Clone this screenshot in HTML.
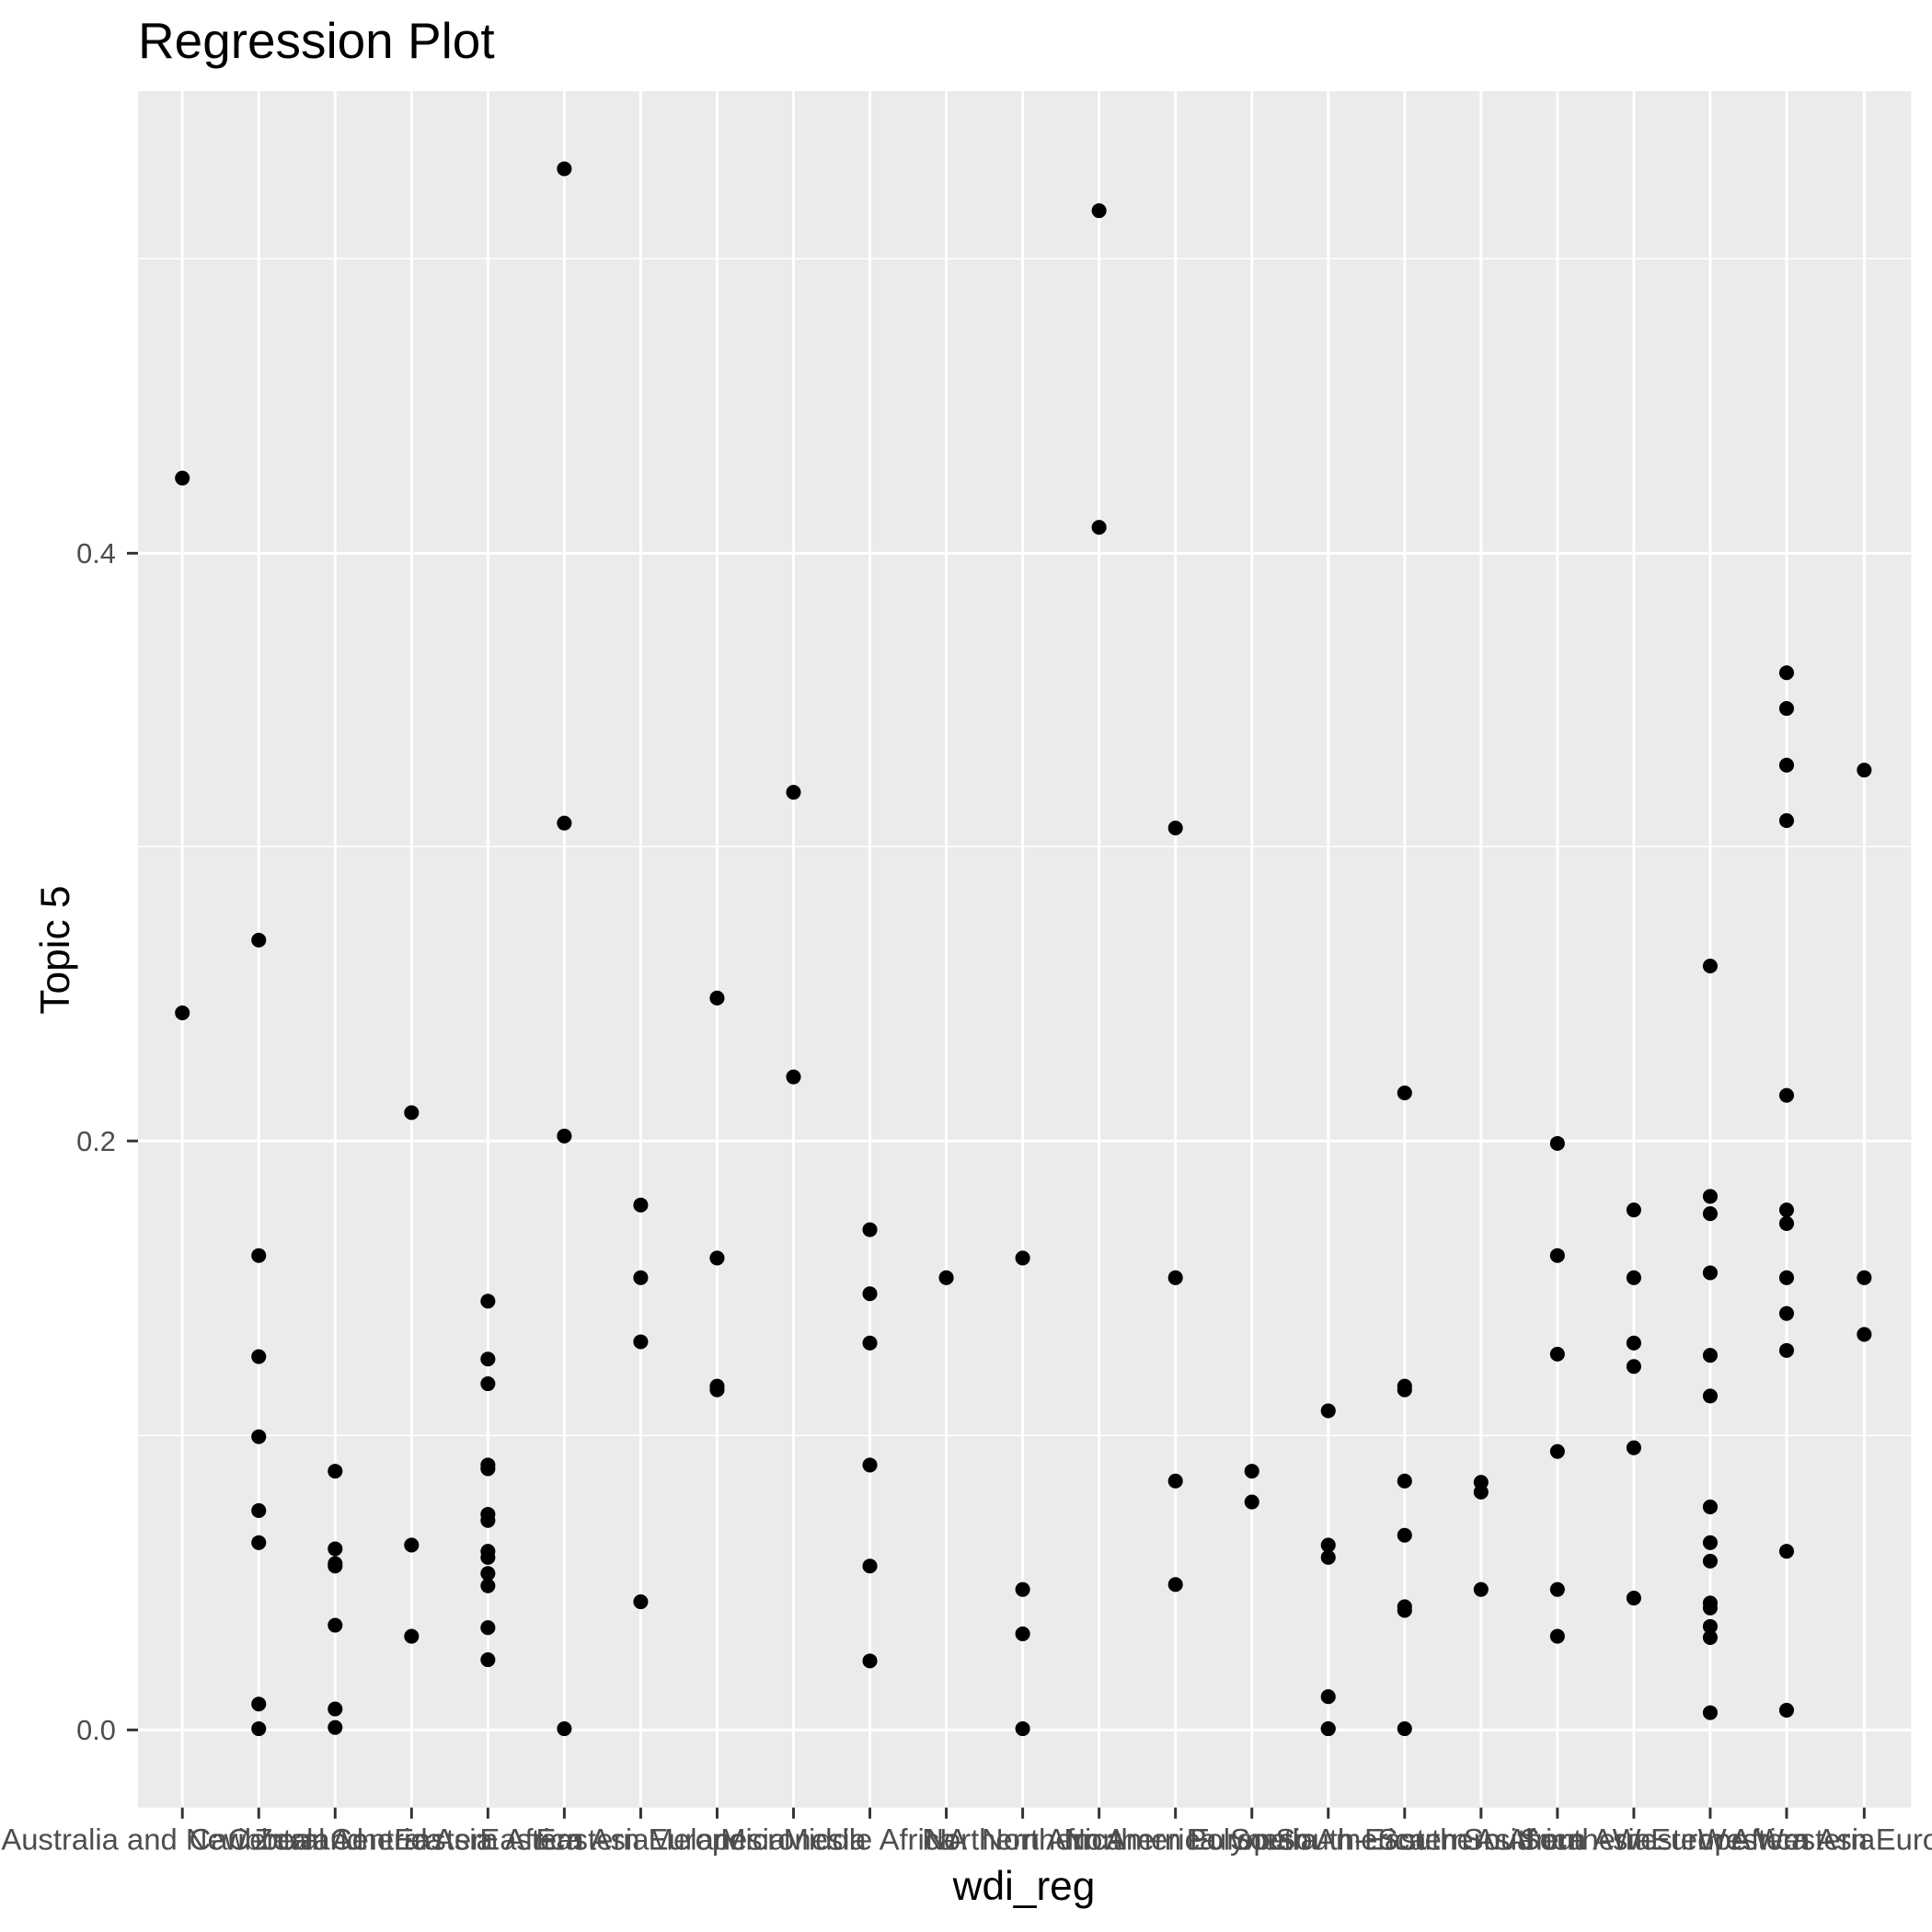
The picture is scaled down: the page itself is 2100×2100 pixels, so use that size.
<!DOCTYPE html>
<html><head><style>html,body{margin:0;padding:0;background:#fff}svg{display:block}</style></head>
<body>
<svg width="2100" height="2100" viewBox="0 0 1568 1568" xmlns="http://www.w3.org/2000/svg" font-family="Liberation Sans, sans-serif">
<rect x="0" y="0" width="1568" height="1568" fill="#fff"/>
<rect x="112" y="74" width="1439" height="1393" fill="#ebebeb"/>
<g stroke="#fff" stroke-width="1.1">
<line x1="112" x2="1551" y1="1165" y2="1165"/><line x1="112" x2="1551" y1="687" y2="687"/><line x1="112" x2="1551" y1="210" y2="210"/>
</g>
<g stroke="#fff" stroke-width="2.2" id="grid"></g>
<g id="pts" fill="#000"></g>
<g id="xt" fill="#4d4d4d" font-size="24.5" text-anchor="middle"></g>
<g fill="#4d4d4d" font-size="23" text-anchor="end">
<text x="94" y="1412">0.0</text><text x="94" y="934">0.2</text><text x="94" y="457">0.4</text>
</g>
<g stroke="#333" stroke-width="2.2">
<line x1="103" x2="112" y1="1404" y2="1404"/><line x1="103" x2="112" y1="926" y2="926"/><line x1="103" x2="112" y1="449" y2="449"/>
</g>
<text x="831" y="1542" font-size="33" text-anchor="middle">wdi_reg</text>
<text transform="translate(56,771) rotate(-90)" font-size="33" text-anchor="middle">Topic 5</text>
<text x="112" y="47" font-size="41">Regression Plot</text>
<script>
var X=[148,210,272,334,396,458,520,582,644,706,768,830,892,954,1016,1078,1140,1202,1264,1326,1388,1450,1513];
var names=["Australia and New Zealand","Caribbean","Central America","Central Asia","Eastern Africa","Eastern Asia","Eastern Europe","Melanesia","Micronesia","Middle Africa","NA","Northern Africa","Northern America","Northern Europe","Polynesia","South America","South-Eastern Asia","Southern Africa","Southern Asia","Southern Europe","Western Africa","Western Asia","Western Europe"];
var P=[[388,822],[763,1019,1101,1166,1226,1252,1383,1403],[1194,1257,1269,1271,1319,1387,1402],[903,1254,1328],[1056,1103,1123,1189,1192,1229,1234,1259,1264,1277,1287,1321,1347],[137,668,922,1403],[978,1037,1089,1300],[810,1021,1125,1128],[643,874],[998,1050,1090,1189,1271,1348],[1037],[1021,1290,1326,1403],[171,428],[672,1037,1202,1286],[1194,1219],[1145,1254,1264,1377,1403,1403],[887,1125,1128,1202,1246,1304,1307,1403],[1203,1211,1290],[928,1019,1099,1178,1290,1328],[982,1037,1090,1109,1175,1297],[784,971,985,1033,1100,1133,1223,1252,1267,1301,1305,1320,1329,1390],[546,575,621,666,889,982,993,1037,1066,1096,1259,1388],[625,1037,1083]];
var ns="http://www.w3.org/2000/svg";
function el(t,a,p){var e=document.createElementNS(ns,t);for(var k in a)e.setAttribute(k,a[k]);document.getElementById(p).appendChild(e);return e;}
[1404,926,449].forEach(function(y){el("line",{x1:112,x2:1551,y1:y,y2:y},"grid");});
X.forEach(function(x,i){
 el("line",{x1:x,x2:x,y1:74,y2:1467},"grid");
 el("line",{x1:x,x2:x,y1:1467,y2:1476,stroke:"#333","stroke-width":2.2},"grid");
 P[i].forEach(function(y){el("circle",{cx:x,cy:y,r:6},"pts");});
 var tx=el("text",{x:x,y:1501},"xt");tx.textContent=names[i];
});
</script>
</svg>
</body></html>
